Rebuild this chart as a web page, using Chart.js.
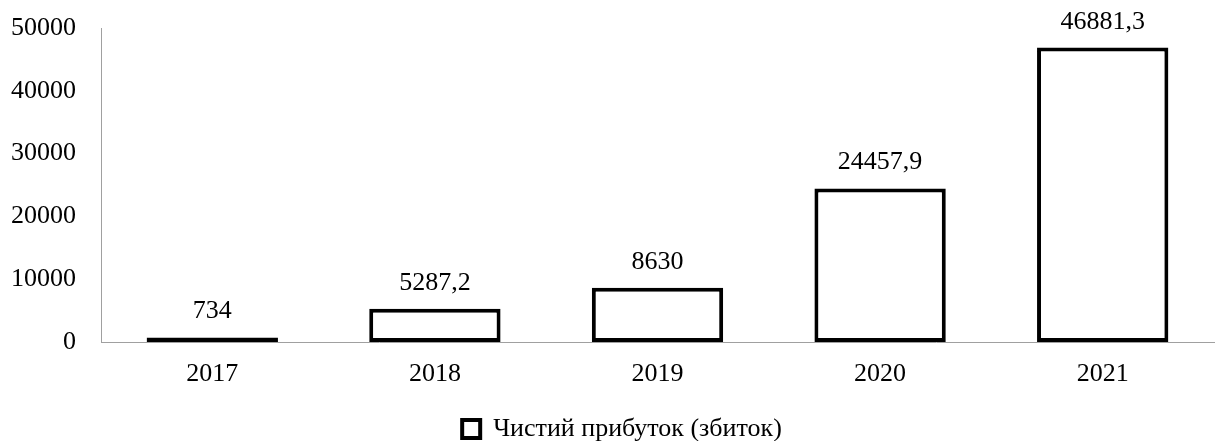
<!DOCTYPE html>
<html>
<head>
<meta charset="utf-8">
<script src="https://cdn.jsdelivr.net/npm/chart.js@4"></script>
<style>
  html, body { margin: 0; padding: 0; background: #fff; }
  #wrap { width: 1216px; height: 441px; }
</style>
</head>
<body>
<div id="wrap"><canvas id="myChart"></canvas></div>
<script>
const years = ['2017', '2018', '2019', '2020', '2021'];
const profit = [734, 5287.2, 8630, 24457.9, 46881.3];
const yTicks = [0, 10000, 20000, 30000, 40000, 50000];
const seriesName = 'Чистий прибуток (збиток)';

const FONT = "'Liberation Serif', 'Times New Roman', serif";
const FSIZE = 26;

// підписи значень над стовпцями
const valueLabels = {
    id: 'valueLabels',
    afterDatasetsDraw(chart) {
        const ctx = chart.ctx;
        const meta = chart.getDatasetMeta(0);
        ctx.save();
        ctx.font = FSIZE + 'px ' + FONT;
        ctx.fillStyle = '#000';
        ctx.textAlign = 'center';
        ctx.textBaseline = 'alphabetic';
        meta.data.forEach((bar, i) => {
            const txt = String(profit[i]).replace('.', ',');
            ctx.fillText(txt, bar.x, bar.y - 19);
        });
        ctx.restore();
    }
};

// легенда трохи правіше, як в оригіналі
const shiftLegend = {
    id: 'shiftLegend',
    afterLayout(chart) {
        chart.legend.left += 15;
        chart.legend.right += 15;
    }
};

const ctx = document.getElementById('myChart').getContext('2d');
const myChart = new Chart(ctx, {
    type: 'bar',
    data: {
        labels: years,
        datasets: [{
            label: seriesName,
            data: profit,
            backgroundColor: '#ffffff',
            borderColor: '#000000',
            borderWidth: 4,
            borderSkipped: false,
            barPercentage: 0.59,
            categoryPercentage: 1
        }]
    },
    options: {
        responsive: true,
        maintainAspectRatio: false,
        animation: false,
        layout: { padding: { top: 28, right: 2, left: 0, bottom: -11 } },
        plugins: {
            tooltip: { enabled: false },
            legend: {
                position: 'bottom',
                labels: {
                    color: '#000',
                    font: { family: FONT, size: FSIZE },
                    boxWidth: 18,
                    boxHeight: 18,
                    padding: 6
                }
            }
        },
        scales: {
            x: {
                grid: { display: false, drawTicks: false },
                border: { display: true, color: '#a0a0a0', width: 1 },
                ticks: { color: '#000', font: { family: FONT, size: FSIZE }, padding: 17 },
                afterFit(scale) {
                    scale.height = 68;
                    scale.paddingLeft = 0;
                    scale.paddingRight = 0;
                }
            },
            y: {
                min: 0,
                max: 50000,
                afterBuildTicks(scale) {
                    scale.ticks = yTicks.map(v => ({ value: v }));
                },
                grid: { display: false, drawTicks: false },
                border: { display: true, color: '#a0a0a0', width: 1 },
                ticks: {
                    color: '#000',
                    font: { family: FONT, size: FSIZE },
                    padding: 25,
                    callback: v => String(v)
                },
                afterFit(scale) {
                    scale.width = 101;
                    scale.paddingTop = 0;
                    scale.paddingBottom = 0;
                }
            }
        }
    },
    plugins: [valueLabels, shiftLegend]
});
</script>
</body>
</html>
